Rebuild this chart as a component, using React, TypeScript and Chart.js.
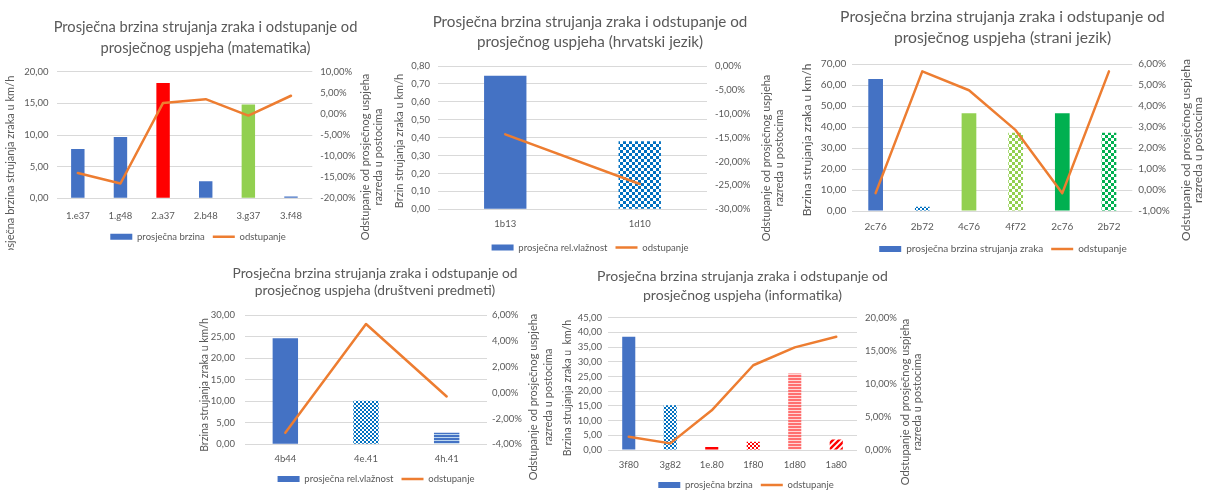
import { useEffect, useRef } from 'react';
import { Chart, registerables } from 'chart.js';

Chart.register(...registerables);

const FONT = 'Lato, "Open Sans", "DejaVu Sans", sans-serif';
const TEXT = '#595959';
const GRID = '#D9D9D9';
const BLUE = '#4472C4';
const DBLUE = '#0070C0';
const ORANGE = '#ED7D31';
const RED = '#FF0000';
const LGREEN = '#92D050';
const GREEN = '#00B050';

// ---------------- data ----------------
const titleLine1 = 'Prosječna brzina strujanja zraka i odstupanje od';
const deviationTitle = ['Odstupanje od prosječnog uspjeha', 'razreda u postocima'];

const matCategories = ['1.e37', '1.g48', '2.a37', '2.b48', '3.g37', '3.f48'];
const matSpeed = [7.8, 9.7, 18.2, 2.7, 14.8, 0.3];
const matDeviation = [-14.0, -16.5, 2.6, 3.5, -0.4, 4.3];
const matSpeedTicks = [0, 5, 10, 15, 20];
const matDeviationTicks = [-20, -15, -10, -5, 0, 5, 10];

const hrvCategories = ['1b13', '1d10'];
const hrvSpeed = [0.745, 0.38];
const hrvDeviation = [-14.3, -24.7];
const hrvSpeedTicks = [0, 0.1, 0.2, 0.3, 0.4, 0.5, 0.6, 0.7, 0.8];
const hrvDeviationTicks = [-30, -25, -20, -15, -10, -5, 0];

const strCategories = ['2c76', '2b72', '4c76', '4f72', '2c76', '2b72'];
const strSpeed = [62.8, 2.0, 46.5, 37.3, 46.5, 37.3];
const strDeviation = [-0.15, 5.65, 4.75, 2.85, -0.15, 5.65];
const strSpeedTicks = [0, 10, 20, 30, 40, 50, 60, 70];
const strDeviationTicks = [-1, 0, 1, 2, 3, 4, 5, 6];

const druCategories = ['4b44', '4e.41', '4h.41'];
const druSpeed = [24.6, 10.1, 2.7];
const druDeviation = [-3.1, 5.3, -0.3];
const druSpeedTicks = [0, 5, 10, 15, 20, 25, 30];
const druDeviationTicks = [-4, -2, 0, 2, 4, 6];

const infCategories = ['3f80', '3g82', '1e.80', '1f80', '1d80', '1a80'];
const infSpeed = [38.5, 15.2, 1.0, 2.8, 26.0, 3.6];
const infDeviation = [2.0, 1.0, 6.0, 12.8, 15.5, 17.1];
const infSpeedTicks = [0, 5, 10, 15, 20, 25, 30, 35, 40, 45];
const infDeviationTicks = [0, 5, 10, 15, 20];

// ---------------- styles ----------------
type Fill = { kind: 'solid' | 'checker' | 'hstripe' | 'diag'; fg: string; bg?: string; cell?: number };
const solid = (c: string): Fill => ({ kind: 'solid', fg: c });

const matFills: Fill[] = [solid(BLUE), solid(BLUE), solid(RED), solid(BLUE), solid(LGREEN), solid(BLUE)];
const hrvFills: Fill[] = [solid(BLUE), { kind: 'checker', fg: DBLUE, bg: '#ffffff', cell: 3 }];
const strFills: Fill[] = [
  solid(BLUE),
  { kind: 'checker', fg: DBLUE, bg: '#ffffff', cell: 2 },
  solid(LGREEN),
  { kind: 'checker', fg: LGREEN, bg: '#ffffff', cell: 3 },
  solid(GREEN),
  { kind: 'checker', fg: GREEN, bg: '#ffffff', cell: 3 },
];
const druFills: Fill[] = [
  solid(BLUE),
  { kind: 'checker', fg: DBLUE, bg: '#ffffff', cell: 2 },
  { kind: 'hstripe', fg: BLUE, bg: '#BDD7EE', cell: 2 },
];
const infFills: Fill[] = [
  solid(BLUE),
  { kind: 'checker', fg: DBLUE, bg: '#ffffff', cell: 2 },
  solid(RED),
  { kind: 'checker', fg: RED, bg: '#ffffff', cell: 2 },
  { kind: 'hstripe', fg: '#FF6F6F', bg: '#FFD6D6', cell: 2 },
  { kind: 'diag', fg: RED, bg: '#ffffff', cell: 3 },
];

interface Spec {
  box: [number, number, number, number];
  plot: [number, number, number, number];
  title: string[];
  titleX: number;
  titleY: number[];
  titleWidth: number;
  yTitle: string;
  yTitleX: number;
  yTitleY: number;
  yTitleSize: number;
  y1TitleX: number[];
  y1TitleY: number;
  y1TitleSize: number;
  clipY?: number;
  legendX: number;
  legendY: number;
  xLabelY: number;
  padL: number;
  padR: number;
  fontSize: number;
  barLabel: string;
  categories: string[];
  bars: number[];
  line: number[];
  barTicks: number[];
  lineTicks: number[];
  fills: Fill[];
}

const SPECS: Spec[] = [
  {
    box: [0, 0, 392, 270], plot: [56.5, 71.7, 312.3, 198.3],
    title: [titleLine1, 'prosječnog uspjeha (matematika)'], titleX: 205.5, titleY: [27, 48], titleWidth: 304,
    yTitle: 'Prosječna brzina strujanja zraka u km/h', yTitleX: 10, yTitleY: 170, yTitleSize: 11,
    y1TitleX: [365, 378.5], y1TitleY: 157, y1TitleSize: 11, clipY: 250,
    legendX: 198, legendY: 236.7, xLabelY: 216, padL: 8, padR: 8, fontSize: 9.5,
    barLabel: 'prosječna brzina',
    categories: matCategories, bars: matSpeed, line: matDeviation,
    barTicks: matSpeedTicks, lineTicks: matDeviationTicks, fills: matFills,
  },
  {
    box: [392, 0, 398, 270], plot: [438, 66, 707, 209.3],
    title: [titleLine1, 'prosječnog uspjeha (hrvatski jezik)'], titleX: 590, titleY: [21.7, 41.7], titleWidth: 315,
    yTitle: 'Brzin strujanja zraka u km/h', yTitleX: 399, yTitleY: 141, yTitleSize: 11,
    y1TitleX: [766.5, 779.5], y1TitleY: 158, y1TitleSize: 11,
    legendX: 590, legendY: 247.5, xLabelY: 224, padL: 8, padR: 8, fontSize: 9.5,
    barLabel: 'prosječna rel.vlažnost',
    categories: hrvCategories, bars: hrvSpeed, line: hrvDeviation,
    barTicks: hrvSpeedTicks, lineTicks: hrvDeviationTicks, fills: hrvFills,
  },
  {
    box: [790, 0, 418, 270], plot: [852.3, 64, 1132.3, 211],
    title: [titleLine1, 'prosječnog uspjeha (strani jezik)'], titleX: 1002.5, titleY: [16.7, 38.3], titleWidth: 325,
    yTitle: 'Brzina strujanja zraka u km/h', yTitleX: 807.5, yTitleY: 140, yTitleSize: 12,
    y1TitleX: [1186, 1198.5], y1TitleY: 150, y1TitleSize: 12,
    legendX: 1003, legendY: 249, xLabelY: 226.7, padL: 6, padR: 6, fontSize: 10,
    barLabel: 'prosječna brzina strujanja zraka',
    categories: strCategories, bars: strSpeed, line: strDeviation,
    barTicks: strSpeedTicks, lineTicks: strDeviationTicks, fills: strFills,
  },
  {
    box: [190, 255, 366, 250], plot: [245, 315, 487, 444.3],
    title: [titleLine1, 'prosječnog uspjeha (društveni predmeti)'], titleX: 375, titleY: [273.3, 291], titleWidth: 285,
    yTitle: 'Brzina strujanja zraka u km/h', yTitleX: 205, yTitleY: 385, yTitleSize: 10.5,
    y1TitleX: [533.5, 548], y1TitleY: 397, y1TitleSize: 11,
    legendX: 376, legendY: 479, xLabelY: 459, padL: 10, padR: 5, fontSize: 9.5,
    barLabel: 'prosječna rel.vlažnost',
    categories: druCategories, bars: druSpeed, line: druDeviation,
    barTicks: druSpeedTicks, lineTicks: druDeviationTicks, fills: druFills,
  },
  {
    box: [556, 255, 369, 250], plot: [608, 317.6, 857, 450],
    title: [titleLine1, 'prosječnog uspjeha (informatika)'], titleX: 742.5, titleY: [276.7, 295], titleWidth: 291,
    yTitle: 'Brzina strujanja zraka u  km/h', yTitleX: 567.5, yTitleY: 388, yTitleSize: 10.5,
    y1TitleX: [905, 917.5], y1TitleY: 402, y1TitleSize: 11,
    legendX: 746, legendY: 485, xLabelY: 465, padL: 6, padR: 8, fontSize: 9.5,
    barLabel: 'prosječna brzina',
    categories: infCategories, bars: infSpeed, line: infDeviation,
    barTicks: infSpeedTicks, lineTicks: infDeviationTicks, fills: infFills,
  },
];

// ---------------- helpers ----------------
function fmt(v: number, suffix: string): string {
  let x = Math.round(v * 1000) / 1000;
  if (Object.is(x, -0)) x = 0;
  return x.toFixed(2).replace('.', ',') + suffix;
}

function makeFill(f: Fill): string | CanvasPattern {
  if (f.kind === 'solid') return f.fg;
  const c = document.createElement('canvas');
  const g = c.getContext('2d') as CanvasRenderingContext2D;
  const n = f.cell ?? 3;
  const bg = f.bg ?? '#ffffff';
  if (f.kind === 'checker') {
    c.width = c.height = 2 * n;
    g.fillStyle = bg;
    g.fillRect(0, 0, 2 * n, 2 * n);
    g.fillStyle = f.fg;
    g.fillRect(0, 0, n, n);
    g.fillRect(n, n, n, n);
  } else if (f.kind === 'hstripe') {
    c.width = 4;
    c.height = n + 1;
    g.fillStyle = bg;
    g.fillRect(0, 0, 4, n + 1);
    g.fillStyle = f.fg;
    g.fillRect(0, 0, 4, n);
  } else {
    const s = 2 * n;
    c.width = c.height = s;
    g.fillStyle = bg;
    g.fillRect(0, 0, s, s);
    g.strokeStyle = f.fg;
    g.lineWidth = n * 0.8;
    g.beginPath();
    g.moveTo(0, s); g.lineTo(s, 0);
    g.moveTo(-s / 2, s / 2); g.lineTo(s / 2, -s / 2);
    g.moveTo(s / 2, s * 1.5); g.lineTo(s * 1.5, s / 2);
    g.stroke();
  }
  return g.createPattern(c, 'repeat') as CanvasPattern;
}

function textPlugin(spec: Spec) {
  return {
    id: 'excelText',
    afterDraw(chart: any) {
      const ctx: CanvasRenderingContext2D = chart.ctx;
      const [bx, by, bw] = spec.box;
      ctx.save();
      ctx.fillStyle = TEXT;
      ctx.textAlign = 'center';
      ctx.textBaseline = 'middle';
      ctx.font = `100px ${FONT}`;
      const size = (100 * spec.titleWidth) / ctx.measureText(spec.title[0]).width;
      ctx.font = `${size}px ${FONT}`;
      spec.title.forEach((t, i) => ctx.fillText(t, spec.titleX - bx, spec.titleY[i] - by));
      if (spec.clipY !== undefined) {
        ctx.beginPath();
        ctx.rect(0, 0, bw, spec.clipY - by);
        ctx.clip();
      }
      const rot = (text: string, x: number, y: number, sz: number) => {
        ctx.save();
        ctx.translate(x - bx, y - by);
        ctx.rotate(-Math.PI / 2);
        ctx.font = `${sz}px ${FONT}`;
        ctx.fillText(text, 0, 0);
        ctx.restore();
      };
      rot(spec.yTitle, spec.yTitleX, spec.yTitleY, spec.yTitleSize);
      deviationTitle.forEach((t, i) => rot(t, spec.y1TitleX[i], spec.y1TitleY, spec.y1TitleSize));
      ctx.restore();
    },
  };
}

function ComboChart({ spec }: { spec: Spec }) {
  const ref = useRef<HTMLCanvasElement>(null);
  const [bx, by, bw, bh] = spec.box;

  useEffect(() => {
    if (!ref.current) return;
    const lpl = spec.plot[0] - bx;
    const lpt = spec.plot[1] - by;
    const lpr = spec.plot[2] - bx;
    const lpb = spec.plot[3] - by;
    const fs = spec.fontSize;
    const legendPad = 8;
    const itemH = fs;
    const padB = Math.max(0, bh - 10 - itemH / 2 - (spec.legendY - by));
    const legendH = itemH + legendPad + 10;
    const shift = spec.legendX - (bx + bw / 2);
    const padLeft = Math.max(0, 2 * shift);
    const padRight = Math.max(0, -2 * shift);
    const leftW = lpl - padLeft;
    const rightW = bw - padRight - lpr;
    const xAxisH = bh - padB - legendH - lpb;
    const lineH = fs * 1.2;
    const xPad = spec.xLabelY - spec.plot[3] - lineH / 2;

    const bt = spec.barTicks;
    const lt = spec.lineTicks;
    const decimalsSuffix = '';

    const chart = new Chart(ref.current, {
      type: 'bar',
      data: {
        labels: spec.categories,
        datasets: [
          {
            type: 'bar',
            label: spec.barLabel,
            data: spec.bars,
            backgroundColor: spec.fills.map(makeFill) as any,
            borderWidth: 0,
            categoryPercentage: 1,
            barPercentage: 0.315,
            yAxisID: 'y',
            order: 1,
          } as any,
          {
            type: 'line',
            label: 'odstupanje',
            data: spec.line,
            borderColor: ORANGE,
            backgroundColor: ORANGE,
            borderWidth: 2.5,
            pointRadius: 0,
            tension: 0,
            borderJoinStyle: 'round',
            borderCapStyle: 'round',
            yAxisID: 'y1',
            order: 0,
          } as any,
        ],
      },
      options: {
        responsive: false,
        animation: false,
        events: [],
        layout: { padding: { top: lpt, bottom: padB, left: padLeft, right: padRight } },
        font: { family: FONT },
        color: TEXT,
        scales: {
          x: {
            grid: { display: false, drawTicks: false },
            border: { display: false },
            ticks: { color: TEXT, font: { family: FONT, size: fs, lineHeight: 1.2 }, padding: xPad, maxRotation: 0, autoSkip: false },
            afterFit: (s: any) => { s.height = xAxisH; },
          },
          y: {
            position: 'left',
            min: bt[0],
            max: bt[bt.length - 1],
            grid: { color: GRID, lineWidth: 1, drawTicks: false },
            border: { display: false },
            ticks: {
              stepSize: bt[1] - bt[0],
              color: TEXT,
              font: { family: FONT, size: fs },
              padding: spec.padL,
              callback: (v: any) => fmt(Number(v), decimalsSuffix),
            },
            afterFit: (s: any) => { s.width = leftW; },
          },
          y1: {
            position: 'right',
            min: lt[0],
            max: lt[lt.length - 1],
            grid: { display: false, drawTicks: false },
            border: { display: false },
            ticks: {
              stepSize: lt[1] - lt[0],
              color: TEXT,
              font: { family: FONT, size: fs },
              padding: spec.padR,
              callback: (v: any) => fmt(Number(v), '%'),
            },
            afterFit: (s: any) => { s.width = rightW; },
          },
        },
        plugins: {
          title: { display: false },
          tooltip: { enabled: false },
          legend: {
            display: true,
            position: 'bottom',
            labels: {
              color: TEXT,
              font: { family: FONT, size: fs },
              usePointStyle: true,
              pointStyleWidth: 22,
              boxHeight: 6,
              padding: legendPad,
              sort: (a: any, b: any) => a.datasetIndex - b.datasetIndex,
              generateLabels: (c: any) => {
                const items = (Chart.defaults.plugins.legend.labels as any).generateLabels(c);
                return items.map((it: any) =>
                  it.datasetIndex === 0
                    ? { ...it, pointStyle: 'rect', fillStyle: BLUE, strokeStyle: BLUE, lineWidth: 0 }
                    : { ...it, pointStyle: 'line', fillStyle: ORANGE, strokeStyle: ORANGE, lineWidth: 2.5 }
                );
              },
            },
          },
        },
      } as any,
      plugins: [textPlugin(spec)],
    });
    return () => chart.destroy();
  }, [spec]);

  return (
    <canvas
      ref={ref}
      width={bw}
      height={bh}
      style={{ position: 'absolute', left: bx, top: by, width: bw, height: bh }}
    />
  );
}

export default function App() {
  return (
    <div
      style={{
        position: 'absolute',
        left: 0,
        top: 0,
        width: 1208,
        height: 493,
        overflow: 'hidden',
        background: '#ffffff',
      }}
    >
      {SPECS.map((s, i) => (
        <ComboChart key={i} spec={s} />
      ))}
    </div>
  );
}
